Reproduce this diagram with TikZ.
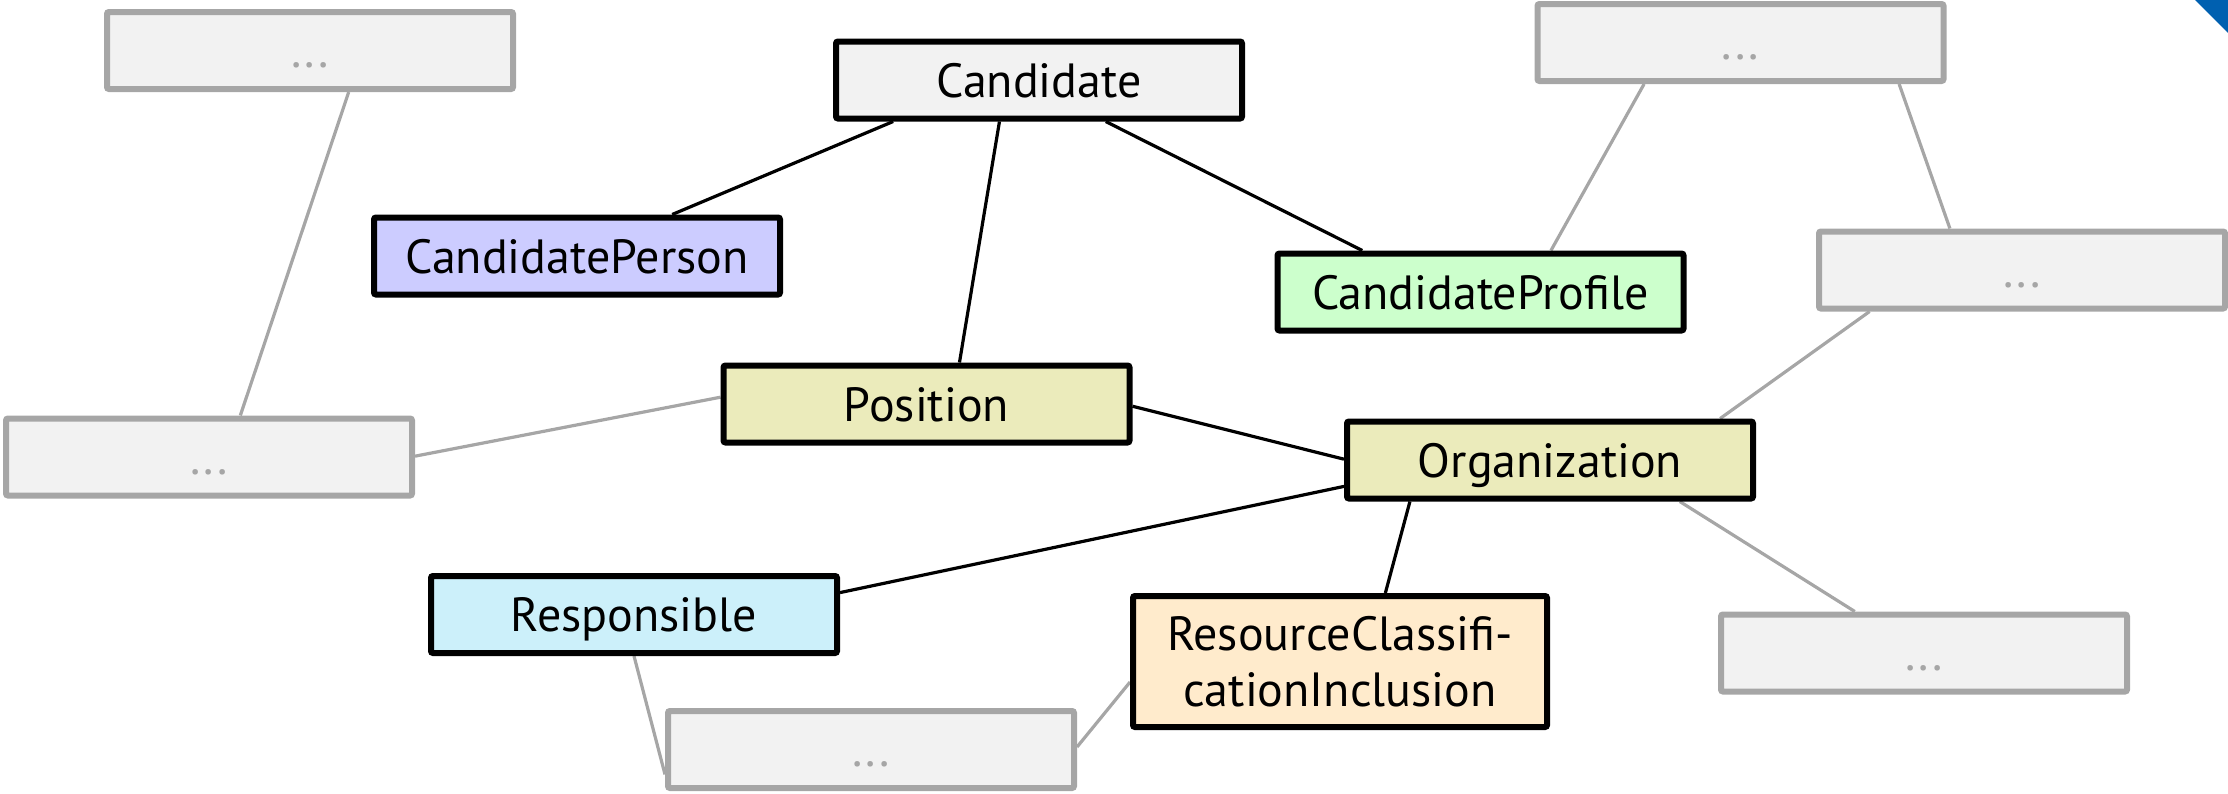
\documentclass[tikz,border=0pt]{standalone}
\usepackage{fontspec}
\setmainfont{PT Sans}
\usetikzlibrary{calc,backgrounds}
\definecolor{gfill}{HTML}{F2F2F2}
\definecolor{gline}{HTML}{A6A6A6}
\definecolor{cperson}{HTML}{CCCCFF}
\definecolor{cprofile}{HTML}{CCFFCC}
\definecolor{olive}{HTML}{EBEBBB}
\definecolor{cyanf}{HTML}{CCF0FA}
\definecolor{peach}{HTML}{FFEBCC}
\definecolor{cornerblue}{HTML}{0060B0}
\tikzset{
  box/.style={draw=black, line width=3pt, rounded corners=1pt, minimum width=203pt, minimum height=38.5pt, inner sep=0pt, font=\fontsize{24}{28}\selectfont, align=center, text height=20pt, text depth=3pt},
  gbox/.style={box, draw=gline, fill=gfill, text=gline},
  bedge/.style={draw=black, line width=1.6pt},
  gedge/.style={draw=gline, line width=1.6pt},
}
\begin{document}
\begin{tikzpicture}[x=0.5pt,y=-0.5pt]
\useasboundingbox (0,0) rectangle (2228,793);
\fill[cornerblue] (2195,0) -- (2228,0) -- (2228,33) -- cycle;

\node[gbox] (g1) at (310,50.5) {...};
\node[gbox] (g2) at (1740.5,42.5) {...};
\node[gbox] (g3) at (2022,270) {...};
\node[gbox] (g4) at (209,457) {...};
\node[gbox] (g5) at (871,749.5) {...};
\node[gbox] (g6) at (1924,653) {...};

\node[box, fill=gfill] (cand) at (1039,80) {Candidate};
\node[box, fill=cperson] (cper) at (577,256) {CandidatePerson};
\node[box, fill=cprofile] (cpro) at (1480.5,292) {CandidateProfile};
\node[box, fill=olive] (pos) at (926.5,404) {Position};
\node[box, fill=olive] (org) at (1550,460) {Organization};
\node[box, fill=cyanf] (resp) at (634,614.5) {Responsible};
\node[box, fill=peach, minimum width=207pt, minimum height=65.5pt, text height=, text depth=] (rci) at (1340,661.5) {ResourceClassifi-\\cationInclusion};

\begin{scope}[on background layer]
% black connectors
\draw[bedge] ($(cand.south west)!0.146!(cand.south east)$) -- ($(cper.north west)!0.731!(cper.north east)$);
\draw[bedge] ($(cand.south west)!0.404!(cand.south east)$) -- ($(pos.north west)!0.580!(pos.north east)$);
\draw[bedge] ($(cand.south west)!0.662!(cand.south east)$) -- ($(cpro.north west)!0.213!(cpro.north east)$);
\draw[bedge] ($(pos.north east)!0.527!(pos.south east)$) -- ($(org.north west)!0.49!(org.south west)$);
\draw[bedge] ($(org.north west)!0.818!(org.south west)$) -- ($(resp.north east)!0.236!(resp.south east)$);
\draw[bedge] ($(org.south west)!0.16!(org.south east)$) -- ($(rci.north west)!0.608!(rci.north east)$);
% gray connectors
\draw[gedge] ($(g1.south west)!0.594!(g1.south east)$) -- ($(g4.north west)!0.576!(g4.north east)$);
\draw[gedge] ($(g2.south west)!0.266!(g2.south east)$) -- ($(cpro.north west)!0.671!(cpro.north east)$);
\draw[gedge] ($(g2.south west)!0.885!(g2.south east)$) -- ($(g3.north west)!0.325!(g3.north east)$);
\draw[gedge] ($(g3.south west)!0.13!(g3.south east)$) -- ($(org.north west)!0.913!(org.north east)$);
\draw[gedge] ($(org.south west)!0.815!(org.south east)$) -- ($(g6.north west)!0.332!(g6.north east)$);
\draw[gedge] ($(pos.north west)!0.418!(pos.south west)$) -- ($(g4.north east)!0.49!(g4.south east)$);
\draw[gedge] ($(resp.south west)!0.5!(resp.south east)$) -- ($(g5.north west)!0.8!(g5.south west)$);
\draw[gedge] ($(rci.north west)!0.65!(rci.south west)$) -- ($(g5.north east)!0.47!(g5.south east)$);
\end{scope}
\end{tikzpicture}
\end{document}
